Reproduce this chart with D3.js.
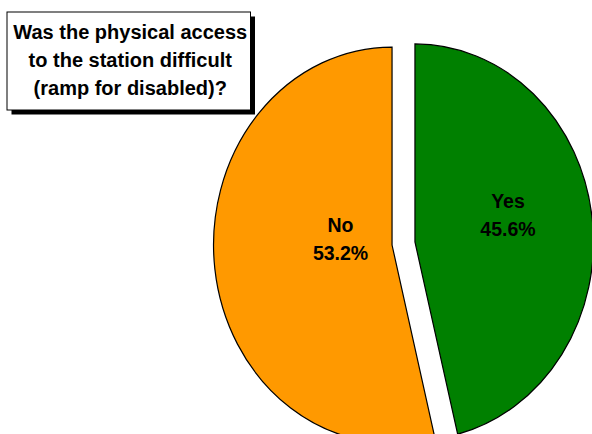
<!DOCTYPE html>
<html>
<head>
<meta charset="utf-8">
<script src="https://cdn.jsdelivr.net/npm/d3@7"></script>
<style>
  html, body { margin: 0; padding: 0; background: #fff; overflow: hidden; }
  svg { display: block; font-family: "Liberation Sans", Arial, sans-serif; }
</style>
</head>
<body>
<svg id="chart" width="592" height="434"></svg>
<script>
// ---- data ----
const categories = ["Yes", "No"];
const values = [45.6, 53.2];
const percentLabels = ["45.6%", "53.2%"];
const sliceColors = ["#008000", "#FF9900"];
const titleLines = ["Was the physical access", "to the station difficult", "(ramp for disabled)?"];

// ---- layout ----
const W = 592, H = 434;
const cx = 403.5, cy = 243.5;
const ry = 198, rx = 178.5;
const sx = rx / ry;
const explode = 12.8;
const labelOffsets = [[93, -33.7], [-51.5, -13]];
const labelLineGap = 27.6;
const fontSize = 19.5;
const titleFontSize = 20;

const svg = d3.select("#chart");

const pie = d3.pie().sort(null).value(d => d.value).startAngle(0).endAngle(2 * Math.PI);
const arcs = pie(categories.map((c, i) => ({ cat: c, value: values[i], pct: percentLabels[i], color: sliceColors[i] })));
const arc = d3.arc().innerRadius(0).outerRadius(ry);

const slices = svg.append("g").selectAll("g.slice").data(arcs).join("g")
  .attr("class", "slice")
  .each(function (d) {
    const mid = (d.startAngle + d.endAngle) / 2;
    d.ox = cx + explode * Math.sin(mid) * sx;
    d.oy = cy - explode * Math.cos(mid);
  });

slices.append("path")
  .attr("transform", d => `translate(${d.ox},${d.oy}) scale(${sx},1)`)
  .attr("d", arc)
  .attr("fill", d => d.data.color)
  .attr("stroke", "#000")
  .attr("stroke-width", 1.2)
  .attr("vector-effect", "non-scaling-stroke")
  .attr("stroke-linejoin", "miter");

const labels = slices.append("text")
  .attr("text-anchor", "middle")
  .attr("font-weight", "bold")
  .attr("font-size", fontSize)
  .attr("fill", "#000");
labels.append("tspan")
  .attr("x", (d, i) => d.ox + labelOffsets[i][0])
  .attr("y", (d, i) => d.oy + labelOffsets[i][1])
  .text(d => d.data.cat);
labels.append("tspan")
  .attr("x", (d, i) => d.ox + labelOffsets[i][0])
  .attr("y", (d, i) => d.oy + labelOffsets[i][1] + labelLineGap)
  .text(d => d.data.pct);

// ---- title box ----
const box = { x: 7, y: 12, w: 243.5, h: 98, shadow: 4.5 };
const tg = svg.append("g");
tg.append("rect")
  .attr("x", box.x + box.shadow).attr("y", box.y + box.shadow)
  .attr("width", box.w).attr("height", box.h)
  .attr("fill", "#000");
tg.append("rect")
  .attr("x", box.x).attr("y", box.y)
  .attr("width", box.w).attr("height", box.h)
  .attr("fill", "#fff").attr("stroke", "#000").attr("stroke-width", 1);
tg.append("text")
  .attr("text-anchor", "middle")
  .attr("font-weight", "bold")
  .attr("font-size", titleFontSize)
  .attr("fill", "#000")
  .selectAll("tspan").data(titleLines).join("tspan")
  .attr("x", box.x + box.w / 2 + 1.5)
  .attr("y", (d, i) => 38.5 + i * 28.3)
  .text(d => d);
</script>
</body>
</html>
